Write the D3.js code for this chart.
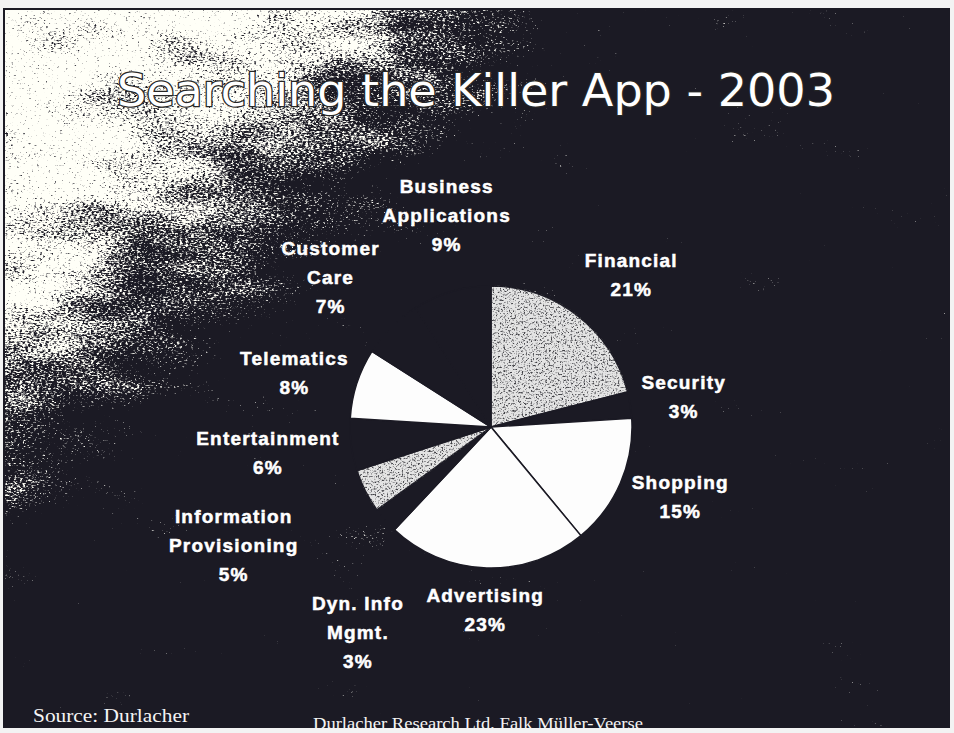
<!DOCTYPE html>
<html>
<head>
<meta charset="utf-8">
<script src="https://cdn.jsdelivr.net/npm/d3@7"></script>
<style>
  body { margin: 0; background: #f3f3f3; }
  svg { display: block; }
</style>
</head>
<body>
<div class="chart"></div>
<script>
const width = 954, height = 733;

const categories = ["Financial", "Security", "Shopping", "Advertising", "Dyn. Info Mgmt.",
    "Information Provisioning", "Entertainment", "Telematics", "Customer Care", "Business Applications"];
const shares = [21, 3, 15, 23, 3, 5, 6, 8, 7, 9];
const labelLines = [["Financial"], ["Security"], ["Shopping"], ["Advertising"], ["Dyn. Info", "Mgmt."],
    ["Information", "Provisioning"], ["Entertainment"], ["Telematics"], ["Customer", "Care"], ["Business", "Applications"]];
const sliceTone = ["grain", "dark", "white", "white", "dark", "grain", "dark", "white", "dark", "dark"];

const titleText = "Searching the Killer App - 2003";
const sourceText = "Source: Durlacher";
const creditText = "Durlacher Research Ltd, Falk Müller-Veerse";

// hand placement of the crowded labels, as on the slide
const labelNudge = [[18, 5], [0, 0], [3, -11], [0, 0], [25, 66], [-60, 17], [-7, -2], [0, 9], [-10, 0], [14, -11]];

const slide = {x: 4, y: 9, w: 946, h: 719};
const bg = "#1b1a24";
const cx = 491, cy = 427, radius = 141;

const svg = d3.select(".chart").append("svg")
    .attr("width", width)
    .attr("height", height);

const defs = svg.append("defs");

// smoky cloud in the top-left corner
const grad = defs.append("linearGradient")
    .attr("id", "smokeGrad")
    .attr("gradientUnits", "userSpaceOnUse")
    .attr("x1", 0).attr("y1", 0)
    .attr("x2", 324).attr("y2", 354);
[[0, "#fff"], [0.45, "#dedede"], [0.68, "#8f8f8f"], [0.85, "#4d4d4d"], [1, "#1a1a1a"]]
    .forEach(s => grad.append("stop").attr("offset", s[0]).attr("stop-color", s[1]));

const opaque = "1 0 0 0 0  0 1 0 0 0  0 0 1 0 0  0 0 0 0 1";

const smoke = defs.append("filter")
    .attr("id", "smoke")
    .attr("filterUnits", "userSpaceOnUse")
    .attr("x", slide.x).attr("y", slide.y)
    .attr("width", slide.w).attr("height", slide.h)
    .attr("color-interpolation-filters", "sRGB");
smoke.append("feTurbulence").attr("type", "fractalNoise").attr("baseFrequency", "0.01 0.025")
    .attr("numOctaves", 4).attr("seed", 7).attr("result", "t1");
smoke.append("feColorMatrix").attr("in", "t1").attr("type", "matrix").attr("values", opaque).attr("result", "n1");
smoke.append("feTurbulence").attr("type", "fractalNoise").attr("baseFrequency", "0.35 0.6")
    .attr("numOctaves", 2).attr("seed", 3).attr("result", "t2");
smoke.append("feColorMatrix").attr("in", "t2").attr("type", "matrix").attr("values", opaque).attr("result", "n2");
smoke.append("feComposite").attr("in", "SourceGraphic").attr("in2", "n1")
    .attr("operator", "arithmetic").attr("k2", 1).attr("k3", 0.75).attr("k4", -0.375).attr("result", "a");
smoke.append("feComposite").attr("in", "a").attr("in2", "n2")
    .attr("operator", "arithmetic").attr("k2", 1).attr("k3", 1.1).attr("k4", -0.55).attr("result", "b");
smoke.append("feColorMatrix").attr("in", "b").attr("type", "matrix")
    .attr("values", "0 0 0 0 1  0 0 0 0 1  0 0 0 0 0.97  4 0 0 0 -2.2");

// grainy fill for the gray slices
const grain = defs.append("filter")
    .attr("id", "grain")
    .attr("color-interpolation-filters", "sRGB");
grain.append("feTurbulence").attr("type", "fractalNoise").attr("baseFrequency", 0.55)
    .attr("numOctaves", 2).attr("seed", 11).attr("result", "n");
grain.append("feColorMatrix").attr("in", "n").attr("type", "matrix")
    .attr("values", "0 0 0 0 0.25  0 0 0 0 0.25  0 0 0 0 0.27  -4 0 0 0 1.95").attr("result", "dots");
grain.append("feComposite").attr("in", "dots").attr("in2", "SourceGraphic").attr("operator", "in").attr("result", "d2");
const gm = grain.append("feMerge");
gm.append("feMergeNode").attr("in", "SourceGraphic");
gm.append("feMergeNode").attr("in", "d2");

// slide
svg.append("rect")
    .attr("x", slide.x).attr("y", slide.y)
    .attr("width", slide.w).attr("height", slide.h)
    .attr("fill", bg);

svg.append("rect")
    .attr("x", slide.x).attr("y", slide.y)
    .attr("width", slide.w).attr("height", slide.h)
    .attr("fill", "url(#smokeGrad)")
    .attr("filter", "url(#smoke)");

svg.append("rect")
    .attr("x", slide.x).attr("y", slide.y)
    .attr("width", slide.w).attr("height", slide.h)
    .attr("fill", "none")
    .attr("stroke", bg)
    .attr("stroke-width", 2);

// title
svg.append("text")
    .attr("x", 117).attr("y", 106)
    .attr("textLength", 718)
    .attr("lengthAdjust", "spacingAndGlyphs")
    .attr("font-family", "'DejaVu Sans', Tahoma, sans-serif")
    .attr("font-size", 44)
    .attr("fill", "#fff")
    .attr("stroke", "#262626")
    .attr("stroke-width", 2.5)
    .attr("paint-order", "stroke")
    .text(titleText);

// pie
const pie = d3.pie().sort(null).value(d => d);
const arcs = pie(shares);
const arc = d3.arc().innerRadius(0).outerRadius(radius);

const toneFill = {grain: "#e4e4e4", white: "#fdfdfd", dark: bg};

const g = svg.append("g").attr("transform", `translate(${cx},${cy})`);

g.selectAll("path")
    .data(arcs)
    .join("path")
    .attr("d", arc)
    .attr("fill", (d, i) => toneFill[sliceTone[i]])
    .attr("filter", (d, i) => sliceTone[i] === "grain" ? "url(#grain)" : null)
    .attr("stroke", bg)
    .attr("stroke-width", 1.5)
    .attr("stroke-linejoin", "round");

// labels
const lineH = 29, gap = 17;

const labels = svg.append("g")
    .attr("font-family", "'Liberation Sans', Arial, sans-serif")
    .attr("font-weight", "bold")
    .attr("font-size", 19)
    .attr("letter-spacing", 1.2)
    .attr("fill", "#fff")
    .attr("stroke", "#fff")
    .attr("stroke-width", 0.5)
    .attr("text-anchor", "middle");

arcs.forEach((d, i) => {
    const lines = labelLines[i].concat([shares[i] + "%"]);
    const lg = labels.append("g");
    const t = lg.append("text");
    lines.forEach((s, k) => {
        t.append("tspan")
            .attr("x", 0)
            .attr("y", (k - (lines.length - 1) / 2) * lineH + 7)
            .text(s);
    });
    const w = t.node().getBBox().width / 2;
    const h = (lines.length - 1) * lineH / 2 + 9;
    const a = (d.startAngle + d.endAngle) / 2;
    const dist = radius + gap + 0.8 * Math.abs(Math.sin(a)) * w + Math.abs(Math.cos(a)) * h;
    const x = cx + dist * Math.sin(a) + labelNudge[i][0];
    const y = cy - dist * Math.cos(a) + labelNudge[i][1];
    lg.attr("transform", `translate(${x},${y})`);
});

// footer
svg.append("text")
    .attr("x", 33).attr("y", 722)
    .attr("textLength", 156)
    .attr("lengthAdjust", "spacingAndGlyphs")
    .attr("font-family", "'Liberation Serif', 'Times New Roman', serif")
    .attr("font-size", 19)
    .attr("fill", "#f4f4f4")
    .text(sourceText);

svg.append("text")
    .attr("x", 313).attr("y", 729)
    .attr("textLength", 330)
    .attr("lengthAdjust", "spacingAndGlyphs")
    .attr("font-family", "'Liberation Serif', 'Times New Roman', serif")
    .attr("font-size", 17)
    .attr("fill", "#f4f4f4")
    .text(creditText);

// paper edge below and right of the slide
svg.append("rect")
    .attr("x", 0).attr("y", slide.y + slide.h)
    .attr("width", width).attr("height", height - slide.y - slide.h)
    .attr("fill", "#f3f3f3");
svg.append("rect")
    .attr("x", slide.x + slide.w).attr("y", 0)
    .attr("width", width - slide.x - slide.w).attr("height", height)
    .attr("fill", "#f3f3f3");
</script>
</body>
</html>
